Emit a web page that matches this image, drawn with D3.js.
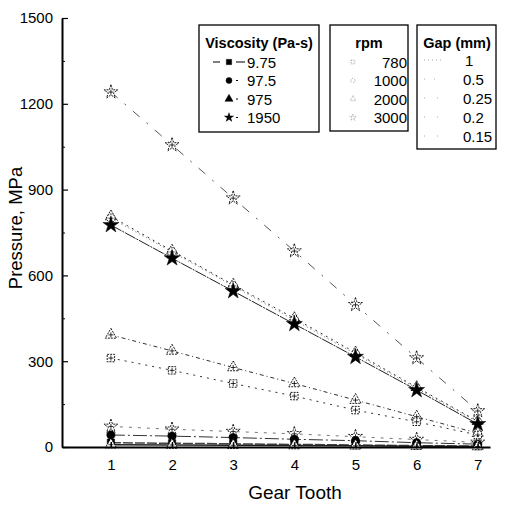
<!DOCTYPE html>
<html><head><meta charset="utf-8">
<script src="https://cdn.jsdelivr.net/npm/d3@7"></script>
<style>body{margin:0;background:#fff;font-family:"Liberation Sans",Arial,sans-serif;}</style>
</head><body><svg id="c" width="508" height="505"></svg>
<script>
const teeth = [1,2,3,4,5,6,7];
const yTicks = [0,300,600,900,1200,1500];
const yMinor = [150,450,750,1050,1350];
// series values (MPa) per gear tooth
const sStarHollowHigh = [1241,1056,870,685,497,311,126];
const sTriHollow800 = [806,686,567,450,330,209,90];
const sCircHollow800 = [800,682,563,444,325,205,87];
const sStarFilled = [776,660,545,430,315,199,80];
const sTriHollow390 = [392,336,278,222,164,106,48];
const sSqHollow310 = [311,268,222,178,129,88,42];
const sStarHollowLow = [72,62,54,46,36,26,16];
const sCircFilled = [42,38,33,27,22,15,10];
const sSqFilled = [15,13,11,9,7,5,3];
const sTriHollowLow = [8,7,6,5,4,3,2];
const viscLabels = ["9.75","97.5","975","1950"];
const rpmLabels = ["780","1000","2000","3000"];
const gapLabels = ["1","0.5","0.25","0.2","0.15"];

const series = [
  {v:sStarHollowHigh, shape:"star", fill:false, dash:"9,9,2,9", col:"#555", w:1},
  {v:sTriHollow800, shape:"triangle", fill:false, dash:"2,4", col:"#333", w:1},
  {v:sCircHollow800, shape:"circle", fill:false, dash:"1,3", col:"#666", w:1},
  {v:sStarFilled, shape:"star", fill:true, dash:"12,1,2,1", col:"#222", w:1},
  {v:sTriHollow390, shape:"triangle", fill:false, dash:"4,3,1,3", col:"#333", w:1},
  {v:sSqHollow310, shape:"square", fill:false, dash:"2,5", col:"#333", w:1},
  {v:sStarHollowLow, shape:"star", fill:false, dash:"3,6", col:"#777", w:1},
  {v:sCircFilled, shape:"circle", fill:true, dash:"14,3,2,3", col:"#333", w:1},
  {v:sSqFilled, shape:"square", fill:true, dash:"10,2", col:"#444", w:1.5},
  {v:sTriHollowLow, shape:"triangle", fill:false, dash:"", col:"#222", w:1.5}
];

const svg = d3.select("#c");
const x = d3.scaleLinear().domain([0.2,7.2]).range([62,490]);
const y = d3.scaleLinear().domain([0,1500]).range([447,18]);

const symType = {star:d3.symbolStar, triangle:d3.symbolTriangle, circle:d3.symbolCircle, square:d3.symbolSquare};
function marker(g, shape, fill, cx, cy, size){
  const s = g.append("g").attr("transform",`translate(${cx},${cy})`);
  s.append("path").attr("d", d3.symbol().type(symType[shape]).size(size)())
    .attr("fill", fill ? "#000" : "#fff").attr("stroke","#000").attr("stroke-width", fill?0.5:0.9)
    .attr("stroke-dasharray", fill ? null : "2,1");
  if(!fill){
    s.append("path").attr("d","M-2.5,0H2.5M0,-2.5V2.5").attr("stroke","#000").attr("stroke-width",0.8);
  }
}

// lines
const line = d3.line().x((d,i)=>x(teeth[i])).y(d=>y(d));
const gLines = svg.append("g");
series.forEach(s=>{
  gLines.append("path").datum(s.v).attr("d",line).attr("fill","none")
    .attr("stroke",s.col).attr("stroke-width",s.w).attr("stroke-dasharray",s.dash||null);
});
// markers
const gM = svg.append("g");
series.forEach(s=>{
  s.v.forEach((v,i)=>marker(gM, s.shape, s.fill, x(teeth[i]), y(v), s.shape==="star"? (s.fill?80:60) : 55));
});

// axes
const yAx = svg.append("g").attr("transform","translate(62,0)")
  .call(d3.axisLeft(y).tickValues(yTicks).tickSizeInner(-6).tickSizeOuter(0).tickPadding(9).tickFormat(d3.format("d")));
svg.append("g").attr("transform","translate(62,0)")
  .call(d3.axisLeft(y).tickValues(yMinor).tickSizeInner(-3).tickSizeOuter(0).tickFormat(""))
  .select(".domain").remove();
const xAx = svg.append("g").attr("transform","translate(0,447)")
  .call(d3.axisBottom(x).tickValues(teeth).tickSizeInner(-5).tickSizeOuter(0).tickPadding(12).tickFormat(d3.format("d")));
[yAx,xAx].forEach(a=>{
  a.select(".domain").attr("stroke","#000").attr("stroke-width",2);
  a.selectAll("text").attr("font-size",15).attr("font-family","Liberation Sans, Arial, sans-serif").attr("fill","#000");
  a.selectAll(".tick line").attr("stroke","#000").attr("stroke-width",1.2);
});

svg.append("text").attr("transform","translate(22,228) rotate(-90)").attr("text-anchor","middle")
  .attr("font-size",18.5).text("Pressure, MPa");
svg.append("text").attr("x",295).attr("y",499).attr("text-anchor","middle")
  .attr("font-size",19).text("Gear Tooth");

// legends
const L = svg.append("g").attr("font-family","Liberation Sans, Arial, sans-serif");
function box(x0,y0,w,h){ L.append("rect").attr("x",x0).attr("y",y0).attr("width",w).attr("height",h)
  .attr("fill","#fff").attr("stroke","#000").attr("stroke-width",1.3); }
box(199,25,120,107);
box(330,25,78,106);
box(417,25,79,124);
L.append("text").attr("x",259).attr("y",48).attr("text-anchor","middle").attr("font-weight","bold").attr("font-size",14.5).text("Viscosity (Pa-s)");
L.append("text").attr("x",369).attr("y",48).attr("text-anchor","middle").attr("font-weight","bold").attr("font-size",14.5).text("rpm");
L.append("text").attr("x",457).attr("y",48).attr("text-anchor","middle").attr("font-weight","bold").attr("font-size",14.5).text("Gap (mm)");
const vShapes = ["square","circle","triangle","star"];
viscLabels.forEach((t,i)=>{
  const yy = 62 + i*18.5;
  if(i===0){
    L.append("path").attr("d",`M213,${yy}H220M236,${yy}H245`).attr("stroke","#000").attr("stroke-width",1.2);
  } else {
    L.append("path").attr("d",`M236,${yy}H238`).attr("stroke","#000").attr("stroke-width",1);
  }
  marker(L, vShapes[i], true, 229, yy, vShapes[i]==="star"?25:28);
  L.append("text").attr("x",247).attr("y",yy+5.5).attr("font-size",15).text(t);
});
const rShapes = ["square","circle","triangle","star"];
rpmLabels.forEach((t,i)=>{
  const yy = 62 + i*18.5;
  const s = L.append("g").attr("transform",`translate(353,${yy})`);
  s.append("path").attr("d", d3.symbol().type(symType[rShapes[i]]).size(14)())
    .attr("fill","none").attr("stroke","#888").attr("stroke-width",0.7).attr("stroke-dasharray","1,1");
  L.append("text").attr("x",407).attr("y",yy+5.5).attr("text-anchor","end").attr("font-size",15).text(t);
});
const gDash = ["1,3","1,9","1,12","1,12","1,12"];
gapLabels.forEach((t,i)=>{
  const yy = 60 + i*19;
  L.append("path").attr("d",`M424,${yy}H441`).attr("stroke","#aaa").attr("stroke-width",1).attr("stroke-dasharray",gDash[i]);
  L.append("text").attr("x", i===0?465:463).attr("y",yy+5.5).attr("font-size",15).text(t);
});
</script></body></html>
